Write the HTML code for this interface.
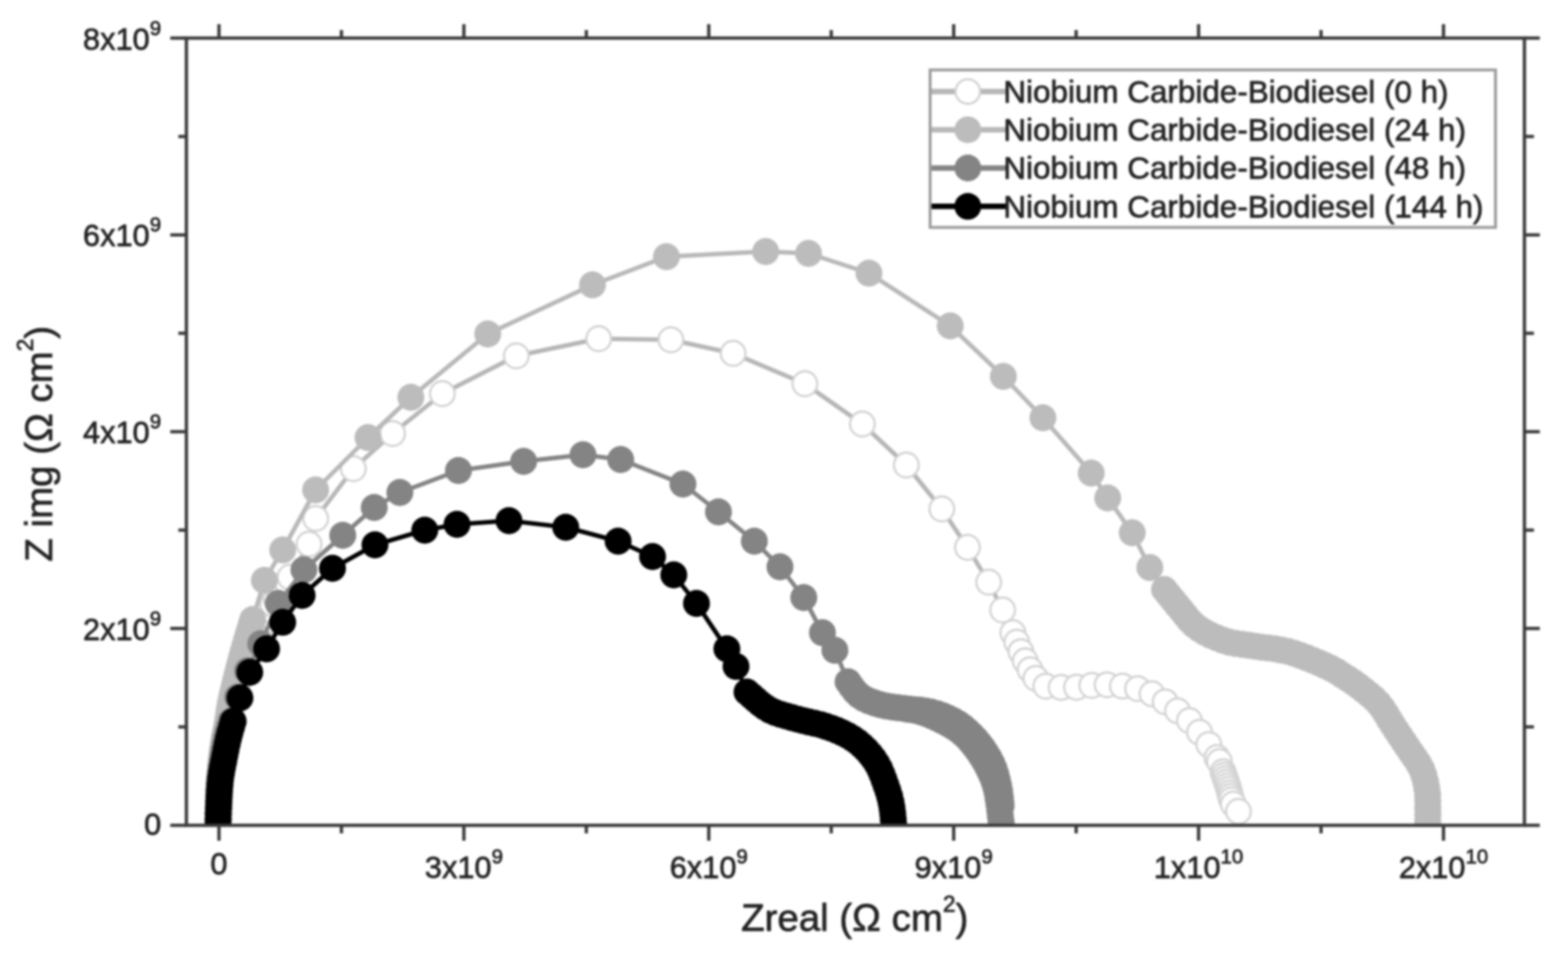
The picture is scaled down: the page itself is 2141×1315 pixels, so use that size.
<!DOCTYPE html>
<html lang="en">
<head>
<meta charset="utf-8">
<title>Nyquist plot – Niobium Carbide-Biodiesel</title>
<style>
html,body{margin:0;padding:0;background:#ffffff;}
body{width:2141px;height:1315px;overflow:hidden;}
svg{display:block;filter:blur(1.8px);}
</style>
</head>
<body>
<svg width="2141" height="1315" viewBox="0 0 2141 1315">
<rect x="0" y="0" width="2141" height="1315" fill="#ffffff"/>
<defs><clipPath id="plotclip"><rect x="254.5" y="52" width="1827.0" height="1076.5"/></clipPath></defs>
<g clip-path="url(#plotclip)">
<path d="M299.0,1127.0 L299.2,1118.0 L299.4,1109.0 L299.7,1100.0 L300.0,1091.0 L300.3,1082.0 L300.7,1073.0 L301.1,1064.0 L301.6,1055.1 L302.3,1046.1 L303.2,1037.1 L304.2,1028.2 L305.4,1019.3 L306.8,1010.4 L308.5,1001.5 L310.3,992.7 L312.2,983.9 L314.1,975.1 L316.0,966.3 L318.1,957.6 L320.3,948.8 L322.5,940.1 L324.9,931.4 L327.7,922.9 L331.0,914.5 L334.8,906.4 L338.7,898.3 L342.6,890.2 L346.3,882.0 L349.8,873.7 L353.2,865.3 L356.7,857.0 L360.3,848.8 L364.1,840.6 L368.1,832.6 L372.4,824.7 L376.9,816.9 L381.6,809.2 L386.6,801.7 L391.7,794.3 L396.0,788.0 L422.0,743.0 L431.0,708.0 L482.5,640.0 L536.0,592.0 L604.0,537.5 L705.0,486.0 L817.5,462.5 L916.0,464.0 L1001.0,482.5 L1099.0,524.0 L1177.5,579.0 L1237.5,635.0 L1286.0,695.0 L1321.0,747.5 L1350.0,795.0 L1369.0,833.0 L1383.0,864.0 L1388.4,876.9 L1394.0,889.8 L1399.9,902.4 L1406.6,914.7 L1414.4,926.3 L1428.0,937.0 L1448.9,938.7 L1469.9,938.5 L1490.8,936.0 L1511.7,935.1 L1532.6,936.9 L1553.3,940.3 L1573.0,947.4 L1591.0,958.3 L1607.9,970.7 L1624.1,984.0 L1637.9,999.9 L1650.6,1016.6 L1661.7,1034.4 L1665.0,1040.0 L1670.0,1054.0 L1671.6,1058.7 L1673.2,1063.5 L1674.8,1068.2 L1676.4,1073.0 L1677.9,1077.7 L1679.2,1082.6 L1680.3,1087.4 L1681.7,1092.2 L1684.0,1098.0 L1691.0,1108.0" fill="none" stroke="#b6b6b6" stroke-width="6.0" stroke-linejoin="round" stroke-linecap="round"/>
<circle cx="299.0" cy="1127.0" r="16.9" fill="#ffffff" stroke="#d2d2d2" stroke-width="3"/>
<circle cx="299.2" cy="1118.0" r="16.9" fill="#ffffff" stroke="#d2d2d2" stroke-width="3"/>
<circle cx="299.4" cy="1109.0" r="16.9" fill="#ffffff" stroke="#d2d2d2" stroke-width="3"/>
<circle cx="299.7" cy="1100.0" r="16.9" fill="#ffffff" stroke="#d2d2d2" stroke-width="3"/>
<circle cx="300.0" cy="1091.0" r="16.9" fill="#ffffff" stroke="#d2d2d2" stroke-width="3"/>
<circle cx="300.3" cy="1082.0" r="16.9" fill="#ffffff" stroke="#d2d2d2" stroke-width="3"/>
<circle cx="300.7" cy="1073.0" r="16.9" fill="#ffffff" stroke="#d2d2d2" stroke-width="3"/>
<circle cx="301.1" cy="1064.0" r="16.9" fill="#ffffff" stroke="#d2d2d2" stroke-width="3"/>
<circle cx="301.6" cy="1055.1" r="16.9" fill="#ffffff" stroke="#d2d2d2" stroke-width="3"/>
<circle cx="302.3" cy="1046.1" r="16.9" fill="#ffffff" stroke="#d2d2d2" stroke-width="3"/>
<circle cx="303.2" cy="1037.1" r="16.9" fill="#ffffff" stroke="#d2d2d2" stroke-width="3"/>
<circle cx="304.2" cy="1028.2" r="16.9" fill="#ffffff" stroke="#d2d2d2" stroke-width="3"/>
<circle cx="305.4" cy="1019.3" r="16.9" fill="#ffffff" stroke="#d2d2d2" stroke-width="3"/>
<circle cx="306.8" cy="1010.4" r="16.9" fill="#ffffff" stroke="#d2d2d2" stroke-width="3"/>
<circle cx="308.5" cy="1001.5" r="16.9" fill="#ffffff" stroke="#d2d2d2" stroke-width="3"/>
<circle cx="310.3" cy="992.7" r="16.9" fill="#ffffff" stroke="#d2d2d2" stroke-width="3"/>
<circle cx="312.2" cy="983.9" r="16.9" fill="#ffffff" stroke="#d2d2d2" stroke-width="3"/>
<circle cx="314.1" cy="975.1" r="16.9" fill="#ffffff" stroke="#d2d2d2" stroke-width="3"/>
<circle cx="316.0" cy="966.3" r="16.9" fill="#ffffff" stroke="#d2d2d2" stroke-width="3"/>
<circle cx="318.1" cy="957.6" r="16.9" fill="#ffffff" stroke="#d2d2d2" stroke-width="3"/>
<circle cx="320.3" cy="948.8" r="16.9" fill="#ffffff" stroke="#d2d2d2" stroke-width="3"/>
<circle cx="322.5" cy="940.1" r="16.9" fill="#ffffff" stroke="#d2d2d2" stroke-width="3"/>
<circle cx="324.9" cy="931.4" r="16.9" fill="#ffffff" stroke="#d2d2d2" stroke-width="3"/>
<circle cx="327.7" cy="922.9" r="16.9" fill="#ffffff" stroke="#d2d2d2" stroke-width="3"/>
<circle cx="331.0" cy="914.5" r="16.9" fill="#ffffff" stroke="#d2d2d2" stroke-width="3"/>
<circle cx="334.8" cy="906.4" r="16.9" fill="#ffffff" stroke="#d2d2d2" stroke-width="3"/>
<circle cx="338.7" cy="898.3" r="16.9" fill="#ffffff" stroke="#d2d2d2" stroke-width="3"/>
<circle cx="342.6" cy="890.2" r="16.9" fill="#ffffff" stroke="#d2d2d2" stroke-width="3"/>
<circle cx="346.3" cy="882.0" r="16.9" fill="#ffffff" stroke="#d2d2d2" stroke-width="3"/>
<circle cx="349.8" cy="873.7" r="16.9" fill="#ffffff" stroke="#d2d2d2" stroke-width="3"/>
<circle cx="353.2" cy="865.3" r="16.9" fill="#ffffff" stroke="#d2d2d2" stroke-width="3"/>
<circle cx="356.7" cy="857.0" r="16.9" fill="#ffffff" stroke="#d2d2d2" stroke-width="3"/>
<circle cx="360.3" cy="848.8" r="16.9" fill="#ffffff" stroke="#d2d2d2" stroke-width="3"/>
<circle cx="364.1" cy="840.6" r="16.9" fill="#ffffff" stroke="#d2d2d2" stroke-width="3"/>
<circle cx="368.1" cy="832.6" r="16.9" fill="#ffffff" stroke="#d2d2d2" stroke-width="3"/>
<circle cx="372.4" cy="824.7" r="16.9" fill="#ffffff" stroke="#d2d2d2" stroke-width="3"/>
<circle cx="376.9" cy="816.9" r="16.9" fill="#ffffff" stroke="#d2d2d2" stroke-width="3"/>
<circle cx="381.6" cy="809.2" r="16.9" fill="#ffffff" stroke="#d2d2d2" stroke-width="3"/>
<circle cx="386.6" cy="801.7" r="16.9" fill="#ffffff" stroke="#d2d2d2" stroke-width="3"/>
<circle cx="391.7" cy="794.3" r="16.9" fill="#ffffff" stroke="#d2d2d2" stroke-width="3"/>
<circle cx="396.0" cy="788.0" r="16.9" fill="#ffffff" stroke="#d2d2d2" stroke-width="3"/>
<circle cx="422.0" cy="743.0" r="16.9" fill="#ffffff" stroke="#d2d2d2" stroke-width="3"/>
<circle cx="431.0" cy="708.0" r="16.9" fill="#ffffff" stroke="#d2d2d2" stroke-width="3"/>
<circle cx="482.5" cy="640.0" r="16.9" fill="#ffffff" stroke="#d2d2d2" stroke-width="3"/>
<circle cx="536.0" cy="592.0" r="16.9" fill="#ffffff" stroke="#d2d2d2" stroke-width="3"/>
<circle cx="604.0" cy="537.5" r="16.9" fill="#ffffff" stroke="#d2d2d2" stroke-width="3"/>
<circle cx="705.0" cy="486.0" r="16.9" fill="#ffffff" stroke="#d2d2d2" stroke-width="3"/>
<circle cx="817.5" cy="462.5" r="16.9" fill="#ffffff" stroke="#d2d2d2" stroke-width="3"/>
<circle cx="916.0" cy="464.0" r="16.9" fill="#ffffff" stroke="#d2d2d2" stroke-width="3"/>
<circle cx="1001.0" cy="482.5" r="16.9" fill="#ffffff" stroke="#d2d2d2" stroke-width="3"/>
<circle cx="1099.0" cy="524.0" r="16.9" fill="#ffffff" stroke="#d2d2d2" stroke-width="3"/>
<circle cx="1177.5" cy="579.0" r="16.9" fill="#ffffff" stroke="#d2d2d2" stroke-width="3"/>
<circle cx="1237.5" cy="635.0" r="16.9" fill="#ffffff" stroke="#d2d2d2" stroke-width="3"/>
<circle cx="1286.0" cy="695.0" r="16.9" fill="#ffffff" stroke="#d2d2d2" stroke-width="3"/>
<circle cx="1321.0" cy="747.5" r="16.9" fill="#ffffff" stroke="#d2d2d2" stroke-width="3"/>
<circle cx="1350.0" cy="795.0" r="16.9" fill="#ffffff" stroke="#d2d2d2" stroke-width="3"/>
<circle cx="1369.0" cy="833.0" r="16.9" fill="#ffffff" stroke="#d2d2d2" stroke-width="3"/>
<circle cx="1383.0" cy="864.0" r="16.9" fill="#ffffff" stroke="#d2d2d2" stroke-width="3"/>
<circle cx="1388.4" cy="876.9" r="16.9" fill="#ffffff" stroke="#d2d2d2" stroke-width="3"/>
<circle cx="1394.0" cy="889.8" r="16.9" fill="#ffffff" stroke="#d2d2d2" stroke-width="3"/>
<circle cx="1399.9" cy="902.4" r="16.9" fill="#ffffff" stroke="#d2d2d2" stroke-width="3"/>
<circle cx="1406.6" cy="914.7" r="16.9" fill="#ffffff" stroke="#d2d2d2" stroke-width="3"/>
<circle cx="1414.4" cy="926.3" r="16.9" fill="#ffffff" stroke="#d2d2d2" stroke-width="3"/>
<circle cx="1428.0" cy="937.0" r="16.9" fill="#ffffff" stroke="#d2d2d2" stroke-width="3"/>
<circle cx="1448.9" cy="938.7" r="16.9" fill="#ffffff" stroke="#d2d2d2" stroke-width="3"/>
<circle cx="1469.9" cy="938.5" r="16.9" fill="#ffffff" stroke="#d2d2d2" stroke-width="3"/>
<circle cx="1490.8" cy="936.0" r="16.9" fill="#ffffff" stroke="#d2d2d2" stroke-width="3"/>
<circle cx="1511.7" cy="935.1" r="16.9" fill="#ffffff" stroke="#d2d2d2" stroke-width="3"/>
<circle cx="1532.6" cy="936.9" r="16.9" fill="#ffffff" stroke="#d2d2d2" stroke-width="3"/>
<circle cx="1553.3" cy="940.3" r="16.9" fill="#ffffff" stroke="#d2d2d2" stroke-width="3"/>
<circle cx="1573.0" cy="947.4" r="16.9" fill="#ffffff" stroke="#d2d2d2" stroke-width="3"/>
<circle cx="1591.0" cy="958.3" r="16.9" fill="#ffffff" stroke="#d2d2d2" stroke-width="3"/>
<circle cx="1607.9" cy="970.7" r="16.9" fill="#ffffff" stroke="#d2d2d2" stroke-width="3"/>
<circle cx="1624.1" cy="984.0" r="16.9" fill="#ffffff" stroke="#d2d2d2" stroke-width="3"/>
<circle cx="1637.9" cy="999.9" r="16.9" fill="#ffffff" stroke="#d2d2d2" stroke-width="3"/>
<circle cx="1650.6" cy="1016.6" r="16.9" fill="#ffffff" stroke="#d2d2d2" stroke-width="3"/>
<circle cx="1661.7" cy="1034.4" r="16.9" fill="#ffffff" stroke="#d2d2d2" stroke-width="3"/>
<circle cx="1665.0" cy="1040.0" r="16.9" fill="#ffffff" stroke="#d2d2d2" stroke-width="3"/>
<circle cx="1670.0" cy="1054.0" r="16.9" fill="#ffffff" stroke="#d2d2d2" stroke-width="3"/>
<circle cx="1671.6" cy="1058.7" r="16.9" fill="#ffffff" stroke="#d2d2d2" stroke-width="3"/>
<circle cx="1673.2" cy="1063.5" r="16.9" fill="#ffffff" stroke="#d2d2d2" stroke-width="3"/>
<circle cx="1674.8" cy="1068.2" r="16.9" fill="#ffffff" stroke="#d2d2d2" stroke-width="3"/>
<circle cx="1676.4" cy="1073.0" r="16.9" fill="#ffffff" stroke="#d2d2d2" stroke-width="3"/>
<circle cx="1677.9" cy="1077.7" r="16.9" fill="#ffffff" stroke="#d2d2d2" stroke-width="3"/>
<circle cx="1679.2" cy="1082.6" r="16.9" fill="#ffffff" stroke="#d2d2d2" stroke-width="3"/>
<circle cx="1680.3" cy="1087.4" r="16.9" fill="#ffffff" stroke="#d2d2d2" stroke-width="3"/>
<circle cx="1681.7" cy="1092.2" r="16.9" fill="#ffffff" stroke="#d2d2d2" stroke-width="3"/>
<circle cx="1684.0" cy="1098.0" r="16.9" fill="#ffffff" stroke="#d2d2d2" stroke-width="3"/>
<circle cx="1691.0" cy="1108.0" r="16.9" fill="#ffffff" stroke="#d2d2d2" stroke-width="3"/>
</g>
<g clip-path="url(#plotclip)">
<path d="M298.0,1127.0 L298.2,1119.0 L298.4,1111.0 L298.6,1103.0 L298.8,1095.0 L299.1,1087.0 L299.4,1079.0 L299.8,1071.0 L300.2,1063.0 L300.6,1055.1 L301.2,1047.1 L302.0,1039.1 L302.9,1031.2 L303.8,1023.2 L305.0,1015.3 L306.3,1007.4 L307.9,999.6 L309.5,991.7 L310.9,983.9 L312.0,975.9 L313.1,968.0 L314.5,960.1 L316.2,952.3 L318.0,944.5 L319.9,936.8 L321.8,929.0 L323.7,921.2 L325.7,913.5 L327.7,905.7 L329.8,898.0 L331.9,890.3 L334.1,882.6 L336.3,874.9 L338.6,867.2 L340.9,859.6 L343.2,851.9 L345.0,846.0 L361.0,792.5 L386.0,751.0 L431.0,669.0 L502.5,597.5 L561.0,542.5 L666.0,456.0 L809.0,389.0 L910.0,350.5 L1045.5,343.5 L1104.0,346.0 L1186.5,373.0 L1297.5,445.0 L1370.0,514.0 L1424.0,570.5 L1490.0,646.0 L1512.5,680.0 L1546.0,727.5 L1570.0,775.0 L1590.0,805.0 L1595.6,812.0 L1601.3,819.0 L1607.0,826.0 L1612.8,832.9 L1618.4,839.9 L1624.1,846.9 L1630.4,853.3 L1637.6,858.7 L1645.3,863.4 L1653.3,867.5 L1661.5,871.1 L1669.9,874.3 L1678.5,876.9 L1687.4,878.7 L1696.3,880.0 L1705.2,881.2 L1714.1,882.6 L1723.0,883.8 L1731.9,884.9 L1740.8,886.1 L1749.7,887.7 L1758.5,889.6 L1767.1,892.1 L1775.6,895.1 L1784.1,898.2 L1792.4,901.6 L1800.7,905.1 L1809.0,908.7 L1817.1,912.4 L1825.0,916.8 L1832.5,921.7 L1840.1,926.6 L1847.6,931.6 L1854.9,936.8 L1862.0,942.3 L1869.1,947.9 L1875.9,953.7 L1882.2,960.2 L1887.7,967.3 L1892.6,974.9 L1897.2,982.6 L1901.9,990.3 L1906.8,997.8 L1911.8,1005.3 L1916.8,1012.7 L1921.8,1020.2 L1926.9,1027.7 L1932.0,1035.1 L1937.0,1042.6 L1941.2,1050.5 L1944.3,1058.9 L1946.6,1067.7 L1948.2,1076.5 L1949.3,1085.4 L1949.5,1094.4 L1949.5,1103.4 L1949.6,1112.4 L1949.5,1121.4 L1949.5,1127.0" fill="none" stroke="#b8b8b8" stroke-width="6.0" stroke-linejoin="round" stroke-linecap="round"/>
<circle cx="298.0" cy="1127.0" r="18.4" fill="#bcbcbc"/>
<circle cx="298.2" cy="1119.0" r="18.4" fill="#bcbcbc"/>
<circle cx="298.4" cy="1111.0" r="18.4" fill="#bcbcbc"/>
<circle cx="298.6" cy="1103.0" r="18.4" fill="#bcbcbc"/>
<circle cx="298.8" cy="1095.0" r="18.4" fill="#bcbcbc"/>
<circle cx="299.1" cy="1087.0" r="18.4" fill="#bcbcbc"/>
<circle cx="299.4" cy="1079.0" r="18.4" fill="#bcbcbc"/>
<circle cx="299.8" cy="1071.0" r="18.4" fill="#bcbcbc"/>
<circle cx="300.2" cy="1063.0" r="18.4" fill="#bcbcbc"/>
<circle cx="300.6" cy="1055.1" r="18.4" fill="#bcbcbc"/>
<circle cx="301.2" cy="1047.1" r="18.4" fill="#bcbcbc"/>
<circle cx="302.0" cy="1039.1" r="18.4" fill="#bcbcbc"/>
<circle cx="302.9" cy="1031.2" r="18.4" fill="#bcbcbc"/>
<circle cx="303.8" cy="1023.2" r="18.4" fill="#bcbcbc"/>
<circle cx="305.0" cy="1015.3" r="18.4" fill="#bcbcbc"/>
<circle cx="306.3" cy="1007.4" r="18.4" fill="#bcbcbc"/>
<circle cx="307.9" cy="999.6" r="18.4" fill="#bcbcbc"/>
<circle cx="309.5" cy="991.7" r="18.4" fill="#bcbcbc"/>
<circle cx="310.9" cy="983.9" r="18.4" fill="#bcbcbc"/>
<circle cx="312.0" cy="975.9" r="18.4" fill="#bcbcbc"/>
<circle cx="313.1" cy="968.0" r="18.4" fill="#bcbcbc"/>
<circle cx="314.5" cy="960.1" r="18.4" fill="#bcbcbc"/>
<circle cx="316.2" cy="952.3" r="18.4" fill="#bcbcbc"/>
<circle cx="318.0" cy="944.5" r="18.4" fill="#bcbcbc"/>
<circle cx="319.9" cy="936.8" r="18.4" fill="#bcbcbc"/>
<circle cx="321.8" cy="929.0" r="18.4" fill="#bcbcbc"/>
<circle cx="323.7" cy="921.2" r="18.4" fill="#bcbcbc"/>
<circle cx="325.7" cy="913.5" r="18.4" fill="#bcbcbc"/>
<circle cx="327.7" cy="905.7" r="18.4" fill="#bcbcbc"/>
<circle cx="329.8" cy="898.0" r="18.4" fill="#bcbcbc"/>
<circle cx="331.9" cy="890.3" r="18.4" fill="#bcbcbc"/>
<circle cx="334.1" cy="882.6" r="18.4" fill="#bcbcbc"/>
<circle cx="336.3" cy="874.9" r="18.4" fill="#bcbcbc"/>
<circle cx="338.6" cy="867.2" r="18.4" fill="#bcbcbc"/>
<circle cx="340.9" cy="859.6" r="18.4" fill="#bcbcbc"/>
<circle cx="343.2" cy="851.9" r="18.4" fill="#bcbcbc"/>
<circle cx="345.0" cy="846.0" r="18.4" fill="#bcbcbc"/>
<circle cx="361.0" cy="792.5" r="18.4" fill="#bcbcbc"/>
<circle cx="386.0" cy="751.0" r="18.4" fill="#bcbcbc"/>
<circle cx="431.0" cy="669.0" r="18.4" fill="#bcbcbc"/>
<circle cx="502.5" cy="597.5" r="18.4" fill="#bcbcbc"/>
<circle cx="561.0" cy="542.5" r="18.4" fill="#bcbcbc"/>
<circle cx="666.0" cy="456.0" r="18.4" fill="#bcbcbc"/>
<circle cx="809.0" cy="389.0" r="18.4" fill="#bcbcbc"/>
<circle cx="910.0" cy="350.5" r="18.4" fill="#bcbcbc"/>
<circle cx="1045.5" cy="343.5" r="18.4" fill="#bcbcbc"/>
<circle cx="1104.0" cy="346.0" r="18.4" fill="#bcbcbc"/>
<circle cx="1186.5" cy="373.0" r="18.4" fill="#bcbcbc"/>
<circle cx="1297.5" cy="445.0" r="18.4" fill="#bcbcbc"/>
<circle cx="1370.0" cy="514.0" r="18.4" fill="#bcbcbc"/>
<circle cx="1424.0" cy="570.5" r="18.4" fill="#bcbcbc"/>
<circle cx="1490.0" cy="646.0" r="18.4" fill="#bcbcbc"/>
<circle cx="1512.5" cy="680.0" r="18.4" fill="#bcbcbc"/>
<circle cx="1546.0" cy="727.5" r="18.4" fill="#bcbcbc"/>
<circle cx="1570.0" cy="775.0" r="18.4" fill="#bcbcbc"/>
<circle cx="1590.0" cy="805.0" r="18.4" fill="#bcbcbc"/>
<circle cx="1595.6" cy="812.0" r="18.4" fill="#bcbcbc"/>
<circle cx="1601.3" cy="819.0" r="18.4" fill="#bcbcbc"/>
<circle cx="1607.0" cy="826.0" r="18.4" fill="#bcbcbc"/>
<circle cx="1612.8" cy="832.9" r="18.4" fill="#bcbcbc"/>
<circle cx="1618.4" cy="839.9" r="18.4" fill="#bcbcbc"/>
<circle cx="1624.1" cy="846.9" r="18.4" fill="#bcbcbc"/>
<circle cx="1630.4" cy="853.3" r="18.4" fill="#bcbcbc"/>
<circle cx="1637.6" cy="858.7" r="18.4" fill="#bcbcbc"/>
<circle cx="1645.3" cy="863.4" r="18.4" fill="#bcbcbc"/>
<circle cx="1653.3" cy="867.5" r="18.4" fill="#bcbcbc"/>
<circle cx="1661.5" cy="871.1" r="18.4" fill="#bcbcbc"/>
<circle cx="1669.9" cy="874.3" r="18.4" fill="#bcbcbc"/>
<circle cx="1678.5" cy="876.9" r="18.4" fill="#bcbcbc"/>
<circle cx="1687.4" cy="878.7" r="18.4" fill="#bcbcbc"/>
<circle cx="1696.3" cy="880.0" r="18.4" fill="#bcbcbc"/>
<circle cx="1705.2" cy="881.2" r="18.4" fill="#bcbcbc"/>
<circle cx="1714.1" cy="882.6" r="18.4" fill="#bcbcbc"/>
<circle cx="1723.0" cy="883.8" r="18.4" fill="#bcbcbc"/>
<circle cx="1731.9" cy="884.9" r="18.4" fill="#bcbcbc"/>
<circle cx="1740.8" cy="886.1" r="18.4" fill="#bcbcbc"/>
<circle cx="1749.7" cy="887.7" r="18.4" fill="#bcbcbc"/>
<circle cx="1758.5" cy="889.6" r="18.4" fill="#bcbcbc"/>
<circle cx="1767.1" cy="892.1" r="18.4" fill="#bcbcbc"/>
<circle cx="1775.6" cy="895.1" r="18.4" fill="#bcbcbc"/>
<circle cx="1784.1" cy="898.2" r="18.4" fill="#bcbcbc"/>
<circle cx="1792.4" cy="901.6" r="18.4" fill="#bcbcbc"/>
<circle cx="1800.7" cy="905.1" r="18.4" fill="#bcbcbc"/>
<circle cx="1809.0" cy="908.7" r="18.4" fill="#bcbcbc"/>
<circle cx="1817.1" cy="912.4" r="18.4" fill="#bcbcbc"/>
<circle cx="1825.0" cy="916.8" r="18.4" fill="#bcbcbc"/>
<circle cx="1832.5" cy="921.7" r="18.4" fill="#bcbcbc"/>
<circle cx="1840.1" cy="926.6" r="18.4" fill="#bcbcbc"/>
<circle cx="1847.6" cy="931.6" r="18.4" fill="#bcbcbc"/>
<circle cx="1854.9" cy="936.8" r="18.4" fill="#bcbcbc"/>
<circle cx="1862.0" cy="942.3" r="18.4" fill="#bcbcbc"/>
<circle cx="1869.1" cy="947.9" r="18.4" fill="#bcbcbc"/>
<circle cx="1875.9" cy="953.7" r="18.4" fill="#bcbcbc"/>
<circle cx="1882.2" cy="960.2" r="18.4" fill="#bcbcbc"/>
<circle cx="1887.7" cy="967.3" r="18.4" fill="#bcbcbc"/>
<circle cx="1892.6" cy="974.9" r="18.4" fill="#bcbcbc"/>
<circle cx="1897.2" cy="982.6" r="18.4" fill="#bcbcbc"/>
<circle cx="1901.9" cy="990.3" r="18.4" fill="#bcbcbc"/>
<circle cx="1906.8" cy="997.8" r="18.4" fill="#bcbcbc"/>
<circle cx="1911.8" cy="1005.3" r="18.4" fill="#bcbcbc"/>
<circle cx="1916.8" cy="1012.7" r="18.4" fill="#bcbcbc"/>
<circle cx="1921.8" cy="1020.2" r="18.4" fill="#bcbcbc"/>
<circle cx="1926.9" cy="1027.7" r="18.4" fill="#bcbcbc"/>
<circle cx="1932.0" cy="1035.1" r="18.4" fill="#bcbcbc"/>
<circle cx="1937.0" cy="1042.6" r="18.4" fill="#bcbcbc"/>
<circle cx="1941.2" cy="1050.5" r="18.4" fill="#bcbcbc"/>
<circle cx="1944.3" cy="1058.9" r="18.4" fill="#bcbcbc"/>
<circle cx="1946.6" cy="1067.7" r="18.4" fill="#bcbcbc"/>
<circle cx="1948.2" cy="1076.5" r="18.4" fill="#bcbcbc"/>
<circle cx="1949.3" cy="1085.4" r="18.4" fill="#bcbcbc"/>
<circle cx="1949.5" cy="1094.4" r="18.4" fill="#bcbcbc"/>
<circle cx="1949.5" cy="1103.4" r="18.4" fill="#bcbcbc"/>
<circle cx="1949.6" cy="1112.4" r="18.4" fill="#bcbcbc"/>
<circle cx="1949.5" cy="1121.4" r="18.4" fill="#bcbcbc"/>
<circle cx="1949.5" cy="1127.0" r="18.4" fill="#bcbcbc"/>
</g>
<g clip-path="url(#plotclip)">
<path d="M297.6,1127.0 L297.7,1119.0 L297.8,1111.0 L297.9,1103.0 L298.1,1095.0 L298.4,1087.0 L298.6,1079.0 L299.0,1071.0 L299.7,1063.1 L300.7,1055.1 L301.9,1047.2 L303.3,1039.3 L304.6,1031.4 L305.9,1023.5 L307.4,1015.7 L309.0,1007.9 L311.0,1000.1 L313.3,992.4 L315.5,985.0 L324.5,952.0 L338.0,916.0 L356.0,879.0 L380.0,824.0 L415.0,778.0 L468.0,731.0 L511.0,693.0 L546.0,672.5 L626.0,642.5 L715.0,630.0 L796.0,621.0 L847.5,627.5 L932.5,661.0 L981.0,699.0 L1030.0,739.0 L1065.0,774.0 L1097.5,816.0 L1123.0,864.0 L1140.0,888.0 L1158.0,931.0 L1162.6,937.5 L1167.5,943.9 L1173.1,949.5 L1179.8,953.9 L1187.0,957.3 L1194.6,960.0 L1202.2,962.3 L1210.0,964.1 L1217.9,965.3 L1225.9,966.4 L1233.8,967.3 L1241.7,968.4 L1249.6,969.9 L1257.3,972.0 L1264.9,974.5 L1272.3,977.5 L1279.6,980.8 L1286.8,984.3 L1293.9,987.9 L1300.9,991.9 L1307.6,996.2 L1313.9,1001.2 L1319.7,1006.6 L1325.1,1012.5 L1330.2,1018.7 L1335.0,1025.1 L1339.5,1031.7 L1343.8,1038.5 L1347.7,1045.5 L1351.3,1052.6 L1354.6,1059.9 L1357.5,1067.4 L1359.8,1075.0 L1361.6,1082.8 L1362.9,1090.7 L1364.1,1098.6 L1365.1,1106.5 L1366.0,1114.5 L1366.9,1122.4 L1367.5,1127.0" fill="none" stroke="#848484" stroke-width="6.0" stroke-linejoin="round" stroke-linecap="round"/>
<circle cx="297.6" cy="1127.0" r="18.4" fill="#848484"/>
<circle cx="297.7" cy="1119.0" r="18.4" fill="#848484"/>
<circle cx="297.8" cy="1111.0" r="18.4" fill="#848484"/>
<circle cx="297.9" cy="1103.0" r="18.4" fill="#848484"/>
<circle cx="298.1" cy="1095.0" r="18.4" fill="#848484"/>
<circle cx="298.4" cy="1087.0" r="18.4" fill="#848484"/>
<circle cx="298.6" cy="1079.0" r="18.4" fill="#848484"/>
<circle cx="299.0" cy="1071.0" r="18.4" fill="#848484"/>
<circle cx="299.7" cy="1063.1" r="18.4" fill="#848484"/>
<circle cx="300.7" cy="1055.1" r="18.4" fill="#848484"/>
<circle cx="301.9" cy="1047.2" r="18.4" fill="#848484"/>
<circle cx="303.3" cy="1039.3" r="18.4" fill="#848484"/>
<circle cx="304.6" cy="1031.4" r="18.4" fill="#848484"/>
<circle cx="305.9" cy="1023.5" r="18.4" fill="#848484"/>
<circle cx="307.4" cy="1015.7" r="18.4" fill="#848484"/>
<circle cx="309.0" cy="1007.9" r="18.4" fill="#848484"/>
<circle cx="311.0" cy="1000.1" r="18.4" fill="#848484"/>
<circle cx="313.3" cy="992.4" r="18.4" fill="#848484"/>
<circle cx="315.5" cy="985.0" r="18.4" fill="#848484"/>
<circle cx="324.5" cy="952.0" r="18.4" fill="#848484"/>
<circle cx="338.0" cy="916.0" r="18.4" fill="#848484"/>
<circle cx="356.0" cy="879.0" r="18.4" fill="#848484"/>
<circle cx="380.0" cy="824.0" r="18.4" fill="#848484"/>
<circle cx="415.0" cy="778.0" r="18.4" fill="#848484"/>
<circle cx="468.0" cy="731.0" r="18.4" fill="#848484"/>
<circle cx="511.0" cy="693.0" r="18.4" fill="#848484"/>
<circle cx="546.0" cy="672.5" r="18.4" fill="#848484"/>
<circle cx="626.0" cy="642.5" r="18.4" fill="#848484"/>
<circle cx="715.0" cy="630.0" r="18.4" fill="#848484"/>
<circle cx="796.0" cy="621.0" r="18.4" fill="#848484"/>
<circle cx="847.5" cy="627.5" r="18.4" fill="#848484"/>
<circle cx="932.5" cy="661.0" r="18.4" fill="#848484"/>
<circle cx="981.0" cy="699.0" r="18.4" fill="#848484"/>
<circle cx="1030.0" cy="739.0" r="18.4" fill="#848484"/>
<circle cx="1065.0" cy="774.0" r="18.4" fill="#848484"/>
<circle cx="1097.5" cy="816.0" r="18.4" fill="#848484"/>
<circle cx="1123.0" cy="864.0" r="18.4" fill="#848484"/>
<circle cx="1140.0" cy="888.0" r="18.4" fill="#848484"/>
<circle cx="1158.0" cy="931.0" r="18.4" fill="#848484"/>
<circle cx="1162.6" cy="937.5" r="18.4" fill="#848484"/>
<circle cx="1167.5" cy="943.9" r="18.4" fill="#848484"/>
<circle cx="1173.1" cy="949.5" r="18.4" fill="#848484"/>
<circle cx="1179.8" cy="953.9" r="18.4" fill="#848484"/>
<circle cx="1187.0" cy="957.3" r="18.4" fill="#848484"/>
<circle cx="1194.6" cy="960.0" r="18.4" fill="#848484"/>
<circle cx="1202.2" cy="962.3" r="18.4" fill="#848484"/>
<circle cx="1210.0" cy="964.1" r="18.4" fill="#848484"/>
<circle cx="1217.9" cy="965.3" r="18.4" fill="#848484"/>
<circle cx="1225.9" cy="966.4" r="18.4" fill="#848484"/>
<circle cx="1233.8" cy="967.3" r="18.4" fill="#848484"/>
<circle cx="1241.7" cy="968.4" r="18.4" fill="#848484"/>
<circle cx="1249.6" cy="969.9" r="18.4" fill="#848484"/>
<circle cx="1257.3" cy="972.0" r="18.4" fill="#848484"/>
<circle cx="1264.9" cy="974.5" r="18.4" fill="#848484"/>
<circle cx="1272.3" cy="977.5" r="18.4" fill="#848484"/>
<circle cx="1279.6" cy="980.8" r="18.4" fill="#848484"/>
<circle cx="1286.8" cy="984.3" r="18.4" fill="#848484"/>
<circle cx="1293.9" cy="987.9" r="18.4" fill="#848484"/>
<circle cx="1300.9" cy="991.9" r="18.4" fill="#848484"/>
<circle cx="1307.6" cy="996.2" r="18.4" fill="#848484"/>
<circle cx="1313.9" cy="1001.2" r="18.4" fill="#848484"/>
<circle cx="1319.7" cy="1006.6" r="18.4" fill="#848484"/>
<circle cx="1325.1" cy="1012.5" r="18.4" fill="#848484"/>
<circle cx="1330.2" cy="1018.7" r="18.4" fill="#848484"/>
<circle cx="1335.0" cy="1025.1" r="18.4" fill="#848484"/>
<circle cx="1339.5" cy="1031.7" r="18.4" fill="#848484"/>
<circle cx="1343.8" cy="1038.5" r="18.4" fill="#848484"/>
<circle cx="1347.7" cy="1045.5" r="18.4" fill="#848484"/>
<circle cx="1351.3" cy="1052.6" r="18.4" fill="#848484"/>
<circle cx="1354.6" cy="1059.9" r="18.4" fill="#848484"/>
<circle cx="1357.5" cy="1067.4" r="18.4" fill="#848484"/>
<circle cx="1359.8" cy="1075.0" r="18.4" fill="#848484"/>
<circle cx="1361.6" cy="1082.8" r="18.4" fill="#848484"/>
<circle cx="1362.9" cy="1090.7" r="18.4" fill="#848484"/>
<circle cx="1364.1" cy="1098.6" r="18.4" fill="#848484"/>
<circle cx="1365.1" cy="1106.5" r="18.4" fill="#848484"/>
<circle cx="1366.0" cy="1114.5" r="18.4" fill="#848484"/>
<circle cx="1366.9" cy="1122.4" r="18.4" fill="#848484"/>
<circle cx="1367.5" cy="1127.0" r="18.4" fill="#848484"/>
<circle cx="1240.0" cy="968.5" r="18.4" fill="#848484"/>
<circle cx="1248.0" cy="969.1" r="18.4" fill="#848484"/>
<circle cx="1256.0" cy="969.7" r="18.4" fill="#848484"/>
<circle cx="1263.9" cy="970.8" r="18.4" fill="#848484"/>
<circle cx="1271.7" cy="972.5" r="18.4" fill="#848484"/>
<circle cx="1279.4" cy="974.6" r="18.4" fill="#848484"/>
<circle cx="1287.0" cy="977.3" r="18.4" fill="#848484"/>
<circle cx="1294.3" cy="980.4" r="18.4" fill="#848484"/>
<circle cx="1301.5" cy="983.9" r="18.4" fill="#848484"/>
<circle cx="1308.4" cy="988.0" r="18.4" fill="#848484"/>
<circle cx="1314.9" cy="992.7" r="18.4" fill="#848484"/>
<circle cx="1321.0" cy="997.9" r="18.4" fill="#848484"/>
<circle cx="1326.7" cy="1003.4" r="18.4" fill="#848484"/>
<circle cx="1332.2" cy="1009.2" r="18.4" fill="#848484"/>
<circle cx="1337.3" cy="1015.4" r="18.4" fill="#848484"/>
<circle cx="1342.1" cy="1021.8" r="18.4" fill="#848484"/>
<circle cx="1346.5" cy="1028.5" r="18.4" fill="#848484"/>
<circle cx="1350.6" cy="1035.3" r="18.4" fill="#848484"/>
<circle cx="1354.3" cy="1042.5" r="18.4" fill="#848484"/>
<circle cx="1357.3" cy="1049.8" r="18.4" fill="#848484"/>
<circle cx="1359.8" cy="1057.4" r="18.4" fill="#848484"/>
<circle cx="1361.8" cy="1065.2" r="18.4" fill="#848484"/>
<circle cx="1363.6" cy="1073.0" r="18.4" fill="#848484"/>
<circle cx="1365.0" cy="1080.9" r="18.4" fill="#848484"/>
<circle cx="1366.0" cy="1088.8" r="18.4" fill="#848484"/>
<circle cx="1366.7" cy="1096.8" r="18.4" fill="#848484"/>
<circle cx="1367.0" cy="1100.0" r="18.4" fill="#848484"/>
</g>
<g clip-path="url(#plotclip)">
<path d="M297.6,1127.0 L297.8,1119.0 L298.0,1111.0 L298.4,1103.0 L298.8,1095.0 L299.2,1087.0 L299.7,1079.1 L300.4,1071.1 L301.2,1063.1 L302.5,1055.2 L303.9,1047.4 L305.5,1039.5 L307.0,1031.7 L308.6,1023.8 L310.2,1016.0 L312.0,1008.2 L314.0,1000.4 L316.2,992.7 L318.4,985.0 L327.6,953.0 L341.0,918.0 L364.0,886.0 L386.0,849.7 L412.5,813.0 L454.0,776.0 L512.0,744.0 L580.0,724.0 L624.0,716.0 L695.0,711.0 L772.5,720.0 L844.0,739.0 L891.0,760.0 L920.0,785.0 L951.0,824.0 L992.5,886.0 L1005.0,910.0 L1020.0,945.0 L1026.0,950.3 L1032.0,955.6 L1038.1,960.7 L1044.5,965.5 L1051.4,969.7 L1058.6,973.0 L1066.2,975.6 L1073.9,977.8 L1081.6,980.0 L1089.3,982.1 L1097.0,984.1 L1104.8,985.9 L1112.6,987.7 L1120.4,989.6 L1128.0,992.0 L1135.6,994.6 L1143.1,997.5 L1150.4,1000.7 L1157.5,1004.3 L1164.4,1008.4 L1170.9,1013.0 L1177.0,1018.2 L1182.7,1023.8 L1188.0,1029.8 L1192.9,1036.1 L1197.3,1042.8 L1201.1,1049.8 L1204.3,1057.2 L1207.1,1064.7 L1209.8,1072.2 L1212.4,1079.8 L1214.7,1087.4 L1216.6,1095.2 L1218.0,1103.1 L1219.0,1111.0 L1219.7,1119.0 L1220.5,1127.0" fill="none" stroke="#000000" stroke-width="6.0" stroke-linejoin="round" stroke-linecap="round"/>
<circle cx="297.6" cy="1127.0" r="18.4" fill="#000000"/>
<circle cx="297.8" cy="1119.0" r="18.4" fill="#000000"/>
<circle cx="298.0" cy="1111.0" r="18.4" fill="#000000"/>
<circle cx="298.4" cy="1103.0" r="18.4" fill="#000000"/>
<circle cx="298.8" cy="1095.0" r="18.4" fill="#000000"/>
<circle cx="299.2" cy="1087.0" r="18.4" fill="#000000"/>
<circle cx="299.7" cy="1079.1" r="18.4" fill="#000000"/>
<circle cx="300.4" cy="1071.1" r="18.4" fill="#000000"/>
<circle cx="301.2" cy="1063.1" r="18.4" fill="#000000"/>
<circle cx="302.5" cy="1055.2" r="18.4" fill="#000000"/>
<circle cx="303.9" cy="1047.4" r="18.4" fill="#000000"/>
<circle cx="305.5" cy="1039.5" r="18.4" fill="#000000"/>
<circle cx="307.0" cy="1031.7" r="18.4" fill="#000000"/>
<circle cx="308.6" cy="1023.8" r="18.4" fill="#000000"/>
<circle cx="310.2" cy="1016.0" r="18.4" fill="#000000"/>
<circle cx="312.0" cy="1008.2" r="18.4" fill="#000000"/>
<circle cx="314.0" cy="1000.4" r="18.4" fill="#000000"/>
<circle cx="316.2" cy="992.7" r="18.4" fill="#000000"/>
<circle cx="318.4" cy="985.0" r="18.4" fill="#000000"/>
<circle cx="327.6" cy="953.0" r="18.4" fill="#000000"/>
<circle cx="341.0" cy="918.0" r="18.4" fill="#000000"/>
<circle cx="364.0" cy="886.0" r="18.4" fill="#000000"/>
<circle cx="386.0" cy="849.7" r="18.4" fill="#000000"/>
<circle cx="412.5" cy="813.0" r="18.4" fill="#000000"/>
<circle cx="454.0" cy="776.0" r="18.4" fill="#000000"/>
<circle cx="512.0" cy="744.0" r="18.4" fill="#000000"/>
<circle cx="580.0" cy="724.0" r="18.4" fill="#000000"/>
<circle cx="624.0" cy="716.0" r="18.4" fill="#000000"/>
<circle cx="695.0" cy="711.0" r="18.4" fill="#000000"/>
<circle cx="772.5" cy="720.0" r="18.4" fill="#000000"/>
<circle cx="844.0" cy="739.0" r="18.4" fill="#000000"/>
<circle cx="891.0" cy="760.0" r="18.4" fill="#000000"/>
<circle cx="920.0" cy="785.0" r="18.4" fill="#000000"/>
<circle cx="951.0" cy="824.0" r="18.4" fill="#000000"/>
<circle cx="992.5" cy="886.0" r="18.4" fill="#000000"/>
<circle cx="1005.0" cy="910.0" r="18.4" fill="#000000"/>
<circle cx="1020.0" cy="945.0" r="18.4" fill="#000000"/>
<circle cx="1026.0" cy="950.3" r="18.4" fill="#000000"/>
<circle cx="1032.0" cy="955.6" r="18.4" fill="#000000"/>
<circle cx="1038.1" cy="960.7" r="18.4" fill="#000000"/>
<circle cx="1044.5" cy="965.5" r="18.4" fill="#000000"/>
<circle cx="1051.4" cy="969.7" r="18.4" fill="#000000"/>
<circle cx="1058.6" cy="973.0" r="18.4" fill="#000000"/>
<circle cx="1066.2" cy="975.6" r="18.4" fill="#000000"/>
<circle cx="1073.9" cy="977.8" r="18.4" fill="#000000"/>
<circle cx="1081.6" cy="980.0" r="18.4" fill="#000000"/>
<circle cx="1089.3" cy="982.1" r="18.4" fill="#000000"/>
<circle cx="1097.0" cy="984.1" r="18.4" fill="#000000"/>
<circle cx="1104.8" cy="985.9" r="18.4" fill="#000000"/>
<circle cx="1112.6" cy="987.7" r="18.4" fill="#000000"/>
<circle cx="1120.4" cy="989.6" r="18.4" fill="#000000"/>
<circle cx="1128.0" cy="992.0" r="18.4" fill="#000000"/>
<circle cx="1135.6" cy="994.6" r="18.4" fill="#000000"/>
<circle cx="1143.1" cy="997.5" r="18.4" fill="#000000"/>
<circle cx="1150.4" cy="1000.7" r="18.4" fill="#000000"/>
<circle cx="1157.5" cy="1004.3" r="18.4" fill="#000000"/>
<circle cx="1164.4" cy="1008.4" r="18.4" fill="#000000"/>
<circle cx="1170.9" cy="1013.0" r="18.4" fill="#000000"/>
<circle cx="1177.0" cy="1018.2" r="18.4" fill="#000000"/>
<circle cx="1182.7" cy="1023.8" r="18.4" fill="#000000"/>
<circle cx="1188.0" cy="1029.8" r="18.4" fill="#000000"/>
<circle cx="1192.9" cy="1036.1" r="18.4" fill="#000000"/>
<circle cx="1197.3" cy="1042.8" r="18.4" fill="#000000"/>
<circle cx="1201.1" cy="1049.8" r="18.4" fill="#000000"/>
<circle cx="1204.3" cy="1057.2" r="18.4" fill="#000000"/>
<circle cx="1207.1" cy="1064.7" r="18.4" fill="#000000"/>
<circle cx="1209.8" cy="1072.2" r="18.4" fill="#000000"/>
<circle cx="1212.4" cy="1079.8" r="18.4" fill="#000000"/>
<circle cx="1214.7" cy="1087.4" r="18.4" fill="#000000"/>
<circle cx="1216.6" cy="1095.2" r="18.4" fill="#000000"/>
<circle cx="1218.0" cy="1103.1" r="18.4" fill="#000000"/>
<circle cx="1219.0" cy="1111.0" r="18.4" fill="#000000"/>
<circle cx="1219.7" cy="1119.0" r="18.4" fill="#000000"/>
<circle cx="1220.5" cy="1127.0" r="18.4" fill="#000000"/>
</g>
<g stroke="#3a3a3a" stroke-width="4.5" fill="none" stroke-linecap="butt">
<rect x="254.5" y="52" width="1827.0" height="1075"/>
<line x1="299.0" y1="1127" x2="299.0" y2="1148"/>
<line x1="299.0" y1="52" x2="299.0" y2="33"/>
<line x1="466.2" y1="1127" x2="466.2" y2="1138"/>
<line x1="466.2" y1="52" x2="466.2" y2="41"/>
<line x1="633.4" y1="1127" x2="633.4" y2="1148"/>
<line x1="633.4" y1="52" x2="633.4" y2="33"/>
<line x1="800.6" y1="1127" x2="800.6" y2="1138"/>
<line x1="800.6" y1="52" x2="800.6" y2="41"/>
<line x1="967.8" y1="1127" x2="967.8" y2="1148"/>
<line x1="967.8" y1="52" x2="967.8" y2="33"/>
<line x1="1135.0" y1="1127" x2="1135.0" y2="1138"/>
<line x1="1135.0" y1="52" x2="1135.0" y2="41"/>
<line x1="1302.2" y1="1127" x2="1302.2" y2="1148"/>
<line x1="1302.2" y1="52" x2="1302.2" y2="33"/>
<line x1="1469.4" y1="1127" x2="1469.4" y2="1138"/>
<line x1="1469.4" y1="52" x2="1469.4" y2="41"/>
<line x1="1636.6" y1="1127" x2="1636.6" y2="1148"/>
<line x1="1636.6" y1="52" x2="1636.6" y2="33"/>
<line x1="1803.8" y1="1127" x2="1803.8" y2="1138"/>
<line x1="1803.8" y1="52" x2="1803.8" y2="41"/>
<line x1="1971.0" y1="1127" x2="1971.0" y2="1148"/>
<line x1="1971.0" y1="52" x2="1971.0" y2="33"/>
<line x1="254.5" y1="1127.0" x2="232.5" y2="1127.0"/>
<line x1="2081.5" y1="1127.0" x2="2102.5" y2="1127.0"/>
<line x1="254.5" y1="992.6" x2="243.5" y2="992.6"/>
<line x1="2081.5" y1="992.6" x2="2094.5" y2="992.6"/>
<line x1="254.5" y1="858.2" x2="232.5" y2="858.2"/>
<line x1="2081.5" y1="858.2" x2="2102.5" y2="858.2"/>
<line x1="254.5" y1="723.9" x2="243.5" y2="723.9"/>
<line x1="2081.5" y1="723.9" x2="2094.5" y2="723.9"/>
<line x1="254.5" y1="589.5" x2="232.5" y2="589.5"/>
<line x1="2081.5" y1="589.5" x2="2102.5" y2="589.5"/>
<line x1="254.5" y1="455.1" x2="243.5" y2="455.1"/>
<line x1="2081.5" y1="455.1" x2="2094.5" y2="455.1"/>
<line x1="254.5" y1="320.8" x2="232.5" y2="320.8"/>
<line x1="2081.5" y1="320.8" x2="2102.5" y2="320.8"/>
<line x1="254.5" y1="186.4" x2="243.5" y2="186.4"/>
<line x1="2081.5" y1="186.4" x2="2094.5" y2="186.4"/>
<line x1="254.5" y1="52.0" x2="232.5" y2="52.0"/>
<line x1="2081.5" y1="52.0" x2="2102.5" y2="52.0"/>
</g>
<g font-family='"Liberation Sans", "DejaVu Sans", sans-serif' font-size="42" fill="#222222" stroke="#222222" stroke-width="0.9">
<text x="299.0" y="1194.0" text-anchor="middle">0</text>
<text x="633.4" y="1199.0" text-anchor="middle">3x10<tspan font-size="28" dy="-20">9</tspan></text>
<text x="967.8" y="1199.0" text-anchor="middle">6x10<tspan font-size="28" dy="-20">9</tspan></text>
<text x="1302.2" y="1199.0" text-anchor="middle">9x10<tspan font-size="28" dy="-20">9</tspan></text>
<text x="1636.6" y="1199.0" text-anchor="middle">1x10<tspan font-size="28" dy="-20">10</tspan></text>
<text x="1971.0" y="1199.0" text-anchor="middle">2x10<tspan font-size="28" dy="-20">10</tspan></text>
<text x="220.0" y="1139.5" text-anchor="end">0</text>
<text x="220.0" y="873.8" text-anchor="end">2x10<tspan font-size="28" dy="-20">9</tspan></text>
<text x="220.0" y="605.0" text-anchor="end">4x10<tspan font-size="28" dy="-20">9</tspan></text>
<text x="220.0" y="336.2" text-anchor="end">6x10<tspan font-size="28" dy="-20">9</tspan></text>
<text x="220.0" y="67.5" text-anchor="end">8x10<tspan font-size="28" dy="-20">9</tspan></text>
</g>
<g font-family='"Liberation Sans", "DejaVu Sans", sans-serif' font-size="52.5" fill="#222222" stroke="#222222" stroke-width="0.9"><text x="1167" y="1270.5" text-anchor="middle">Zreal (Ω cm<tspan font-size="31" dy="-26">2</tspan><tspan dy="26">)</tspan></text><text transform="translate(70.5,606) rotate(-90)" text-anchor="middle">Z img (Ω cm<tspan font-size="31" dy="-26">2</tspan><tspan dy="26">)</tspan></text></g>
<rect x="1270" y="95.5" width="772" height="215.0" fill="#ffffff" stroke="#9c9c9c" stroke-width="4"/>
<line x1="1272" y1="125.0" x2="1375" y2="125.0" stroke="#b6b6b6" stroke-width="7.5"/>
<circle cx="1321.5" cy="125.0" r="16.8" fill="#ffffff" stroke="#d2d2d2" stroke-width="3"/>
<text x="1370" y="140.0" font-family='"Liberation Sans", "DejaVu Sans", sans-serif' font-size="42.9" fill="#222222" stroke="#222222" stroke-width="0.9">Niobium Carbide-Biodiesel (0 h)</text>
<line x1="1272" y1="177.2" x2="1375" y2="177.2" stroke="#b8b8b8" stroke-width="7.5"/>
<circle cx="1321.5" cy="177.2" r="18.3" fill="#bcbcbc"/>
<text x="1370" y="192.2" font-family='"Liberation Sans", "DejaVu Sans", sans-serif' font-size="42.9" fill="#222222" stroke="#222222" stroke-width="0.9">Niobium Carbide-Biodiesel (24 h)</text>
<line x1="1272" y1="229.4" x2="1375" y2="229.4" stroke="#848484" stroke-width="7.5"/>
<circle cx="1321.5" cy="229.4" r="18.3" fill="#848484"/>
<text x="1370" y="244.4" font-family='"Liberation Sans", "DejaVu Sans", sans-serif' font-size="42.9" fill="#222222" stroke="#222222" stroke-width="0.9">Niobium Carbide-Biodiesel (48 h)</text>
<line x1="1272" y1="281.8" x2="1375" y2="281.8" stroke="#000000" stroke-width="7.5"/>
<circle cx="1321.5" cy="281.8" r="18.3" fill="#000000"/>
<text x="1370" y="296.8" font-family='"Liberation Sans", "DejaVu Sans", sans-serif' font-size="42.9" fill="#222222" stroke="#222222" stroke-width="0.9">Niobium Carbide-Biodiesel (144 h)</text>
</svg>
</body>
</html>
